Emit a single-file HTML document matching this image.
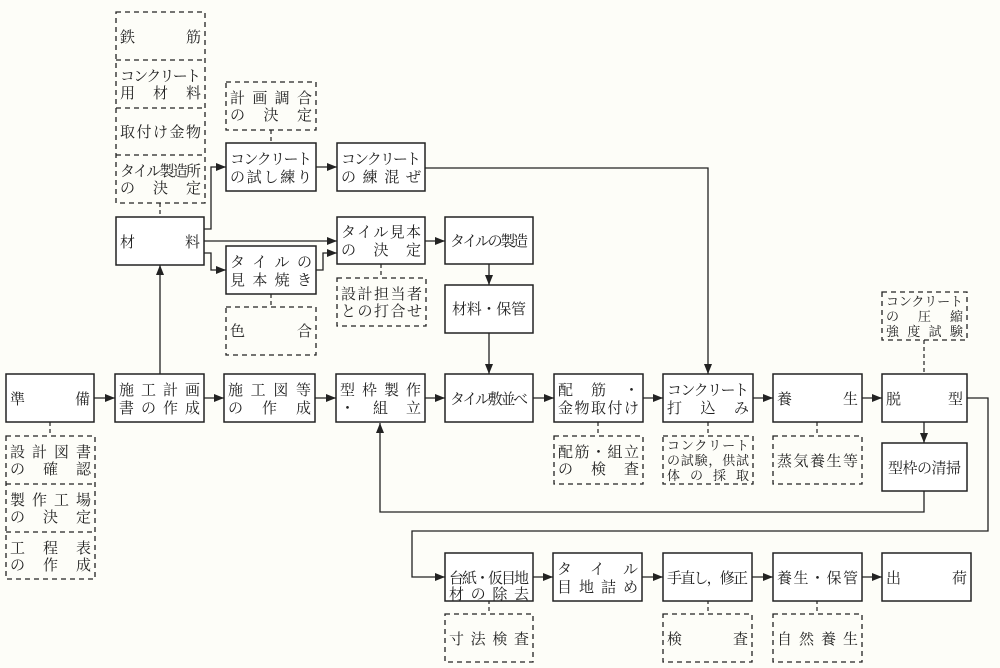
<!DOCTYPE html>
<html><head><meta charset="utf-8"><style>
html,body{margin:0;padding:0;background:#fdfdf8}
svg{display:block}
text{font-family:"Liberation Serif","Noto Serif CJK SC","Noto Sans CJK JP",serif;font-size:15px;fill:#222}
.s{fill:#fff;stroke:#222;stroke-width:1.5}
.d{fill:none;stroke:#222;stroke-width:1.3;stroke-dasharray:5,4}
.l{fill:none;stroke:#222;stroke-width:1.3}
.dl{fill:none;stroke:#222;stroke-width:1.2;stroke-dasharray:4,3}
.sm{font-size:13px}
</style></head><body>
<svg width="1000" height="668" viewBox="0 0 1000 668" xmlns="http://www.w3.org/2000/svg">
<defs><marker id="a" markerWidth="10" markerHeight="8" refX="10" refY="4" orient="auto" markerUnits="userSpaceOnUse"><path d="M0,0 L10,4 L0,8 Z" fill="#222"/></marker></defs>
<rect width="1000" height="668" fill="#fdfdf8"/>

<!-- connectors -->
<g class="l">
<path d="M94,398 H115" marker-end="url(#a)"/>
<path d="M204,398 H224" marker-end="url(#a)"/>
<path d="M315,398 H336" marker-end="url(#a)"/>
<path d="M425,398 H445" marker-end="url(#a)"/>
<path d="M533,398 H554" marker-end="url(#a)"/>
<path d="M643,398 H663" marker-end="url(#a)"/>
<path d="M753,398 H773" marker-end="url(#a)"/>
<path d="M862,398 H882" marker-end="url(#a)"/>
<path d="M160,374 V265" marker-end="url(#a)"/>
<path d="M204,229 H211 V167 H226" marker-end="url(#a)"/>
<path d="M204,241 H337" marker-end="url(#a)"/>
<path d="M204,253 H211 V270 H226" marker-end="url(#a)"/>
<path d="M316,270 H323 V253 H337" marker-end="url(#a)"/>
<path d="M316,167 H337" marker-end="url(#a)"/>
<path d="M425,241 H445" marker-end="url(#a)"/>
<path d="M425,168 H708 V374" marker-end="url(#a)"/>
<path d="M489,264 V285" marker-end="url(#a)"/>
<path d="M489,333 V374" marker-end="url(#a)"/>
<path d="M924,422 V443" marker-end="url(#a)"/>
<path d="M924,491 V512 H380 V423" marker-end="url(#a)"/>
<path d="M967,398 H988 V531 H412 V577 H445" marker-end="url(#a)"/>
<path d="M533,577 H553" marker-end="url(#a)"/>
<path d="M642,577 H663" marker-end="url(#a)"/>
<path d="M752,577 H773" marker-end="url(#a)"/>
<path d="M862,577 H882" marker-end="url(#a)"/>
</g>
<g class="dl">
<path d="M50,422 V436"/><path d="M160,203 V217"/><path d="M271,130 V143"/><path d="M271,294 V307"/><path d="M381,264 V278"/>
<path d="M598,422 V436"/><path d="M708,422 V436"/><path d="M817,422 V436"/><path d="M924,340 V374"/>
<path d="M489,600 V614"/><path d="M708,600 V614"/><path d="M817,600 V614"/>
</g>

<!-- solid boxes -->
<g class="s">
<rect x="6" y="374" width="88" height="48"/>
<rect x="115" y="374" width="89" height="48"/>
<rect x="224" y="374" width="91" height="48"/>
<rect x="336" y="374" width="89" height="48"/>
<rect x="445" y="374" width="88" height="48"/>
<rect x="554" y="374" width="89" height="48"/>
<rect x="663" y="374" width="90" height="48"/>
<rect x="773" y="374" width="89" height="48"/>
<rect x="882" y="374" width="85" height="48"/>
<rect x="882" y="443" width="85" height="48"/>
<rect x="116" y="217" width="88" height="48"/>
<rect x="226" y="143" width="90" height="48"/>
<rect x="337" y="143" width="88" height="48"/>
<rect x="337" y="217" width="88" height="47"/>
<rect x="226" y="246" width="90" height="48"/>
<rect x="445" y="217" width="88" height="47"/>
<rect x="445" y="285" width="88" height="48"/>
<rect x="445" y="553" width="88" height="48"/>
<rect x="553" y="553" width="89" height="48"/>
<rect x="663" y="553" width="89" height="48"/>
<rect x="773" y="553" width="89" height="48"/>
<rect x="882" y="553" width="89" height="48"/>
</g>
<!-- dashed boxes -->
<g class="d">
<rect x="116" y="12" width="89" height="191"/>
<path d="M116,60 H205 M116,108 H205 M116,155 H205"/>
<rect x="226" y="82" width="90" height="48"/>
<rect x="226" y="307" width="90" height="48"/>
<rect x="337" y="278" width="89" height="48"/>
<rect x="6" y="436" width="89" height="143"/>
<path d="M6,484 H95 M6,532 H95"/>
<rect x="554" y="436" width="89" height="48"/>
<rect x="663" y="436" width="90" height="48"/>
<rect x="773" y="436" width="89" height="48"/>
<rect x="882" y="292" width="85" height="48"/>
<rect x="445" y="614" width="88" height="48"/>
<rect x="663" y="614" width="89" height="48"/>
<rect x="773" y="614" width="89" height="48"/>
</g>

<!-- texts -->
<g>
<text x="10" y="404" textLength="80" lengthAdjust="spacing">準備</text>
<text x="119" y="395" textLength="81" lengthAdjust="spacing">施工計画</text>
<text x="119" y="413" textLength="81" lengthAdjust="spacing">書の作成</text>
<text x="228" y="395" textLength="83" lengthAdjust="spacing">施工図等</text>
<text x="228" y="413" textLength="83" lengthAdjust="spacing">の作成</text>
<text x="340" y="395" textLength="81" lengthAdjust="spacing">型枠製作</text>
<text x="340" y="413" textLength="81" lengthAdjust="spacing">・組立</text>
<text x="450" y="404" textLength="78" lengthAdjust="spacing">タイル敷並べ</text>
<text x="558" y="395" textLength="81" lengthAdjust="spacing">配筋・</text>
<text x="558" y="413" textLength="81" lengthAdjust="spacing">金物取付け</text>
<text x="667" y="395" textLength="82" lengthAdjust="spacing">コンクリート</text>
<text x="667" y="413" textLength="82" lengthAdjust="spacing">打込み</text>
<text x="777" y="404" textLength="81" lengthAdjust="spacing">養生</text>
<text x="886" y="404" textLength="77" lengthAdjust="spacing">脱型</text>
<text x="888" y="473" textLength="73" lengthAdjust="spacing">型枠の清掃</text>
<text x="120" y="247" textLength="80" lengthAdjust="spacing">材料</text>
<text x="230" y="164" textLength="82" lengthAdjust="spacing">コンクリート</text>
<text x="230" y="182" textLength="82" lengthAdjust="spacing">の試し練り</text>
<text x="341" y="164" textLength="80" lengthAdjust="spacing">コンクリート</text>
<text x="341" y="182" textLength="80" lengthAdjust="spacing">の練混ぜ</text>
<text x="341" y="237" textLength="80" lengthAdjust="spacing">タイル見本</text>
<text x="341" y="255" textLength="80" lengthAdjust="spacing">の決定</text>
<text x="230" y="267" textLength="82" lengthAdjust="spacing">タイルの</text>
<text x="230" y="285" textLength="82" lengthAdjust="spacing">見本焼き</text>
<text x="450" y="246" textLength="78" lengthAdjust="spacing">タイルの製造</text>
<text x="452" y="314" textLength="74" lengthAdjust="spacing">材料・保管</text>
<text x="449" y="583" textLength="80" lengthAdjust="spacing">台紙・仮目地</text>
<text x="449" y="600" textLength="80" lengthAdjust="spacing" dy="-1">材の除去</text>
<text x="557" y="574" textLength="81" lengthAdjust="spacing">タイル</text>
<text x="557" y="592" textLength="81" lengthAdjust="spacing">目地詰め</text>
<text x="667" y="583" textLength="81" lengthAdjust="spacing">手直し，修正</text>
<text x="777" y="583" textLength="81" lengthAdjust="spacing">養生・保管</text>
<text x="886" y="583" textLength="81" lengthAdjust="spacing">出荷</text>
<!-- dashed texts -->
<text x="120" y="42" textLength="81" lengthAdjust="spacing">鉄筋</text>
<text x="120" y="81" textLength="81" lengthAdjust="spacing">コンクリート</text>
<text x="120" y="98" textLength="81" lengthAdjust="spacing">用材料</text>
<text x="120" y="137" textLength="81" lengthAdjust="spacing">取付け金物</text>
<text x="120" y="176" textLength="81" lengthAdjust="spacing">タイル製造所</text>
<text x="120" y="193" textLength="81" lengthAdjust="spacing">の決定</text>
<text x="230" y="103" textLength="82" lengthAdjust="spacing">計画調合</text>
<text x="230" y="120" textLength="82" lengthAdjust="spacing">の決定</text>
<text x="230" y="336" textLength="82" lengthAdjust="spacing">色合</text>
<text x="341" y="299" textLength="81" lengthAdjust="spacing">設計担当者</text>
<text x="341" y="316" textLength="81" lengthAdjust="spacing">との打合せ</text>
<text x="10" y="457" textLength="81" lengthAdjust="spacing">設計図書</text>
<text x="10" y="474" textLength="81" lengthAdjust="spacing">の確認</text>
<text x="10" y="505" textLength="81" lengthAdjust="spacing">製作工場</text>
<text x="10" y="522" textLength="81" lengthAdjust="spacing">の決定</text>
<text x="10" y="553" textLength="81" lengthAdjust="spacing">工程表</text>
<text x="10" y="570" textLength="81" lengthAdjust="spacing">の作成</text>
<text x="558" y="457" textLength="81" lengthAdjust="spacing">配筋・組立</text>
<text x="558" y="474" textLength="81" lengthAdjust="spacing">の検査</text>
<text x="667" y="450" textLength="82" lengthAdjust="spacing" class="sm">コンクリート</text>
<text x="667" y="465" textLength="82" lengthAdjust="spacing" class="sm">の試験，供試</text>
<text x="667" y="480" textLength="82" lengthAdjust="spacing" class="sm">体の採取</text>
<text x="777" y="466" textLength="81" lengthAdjust="spacing">蒸気養生等</text>
<text x="886" y="306" textLength="77" lengthAdjust="spacing" class="sm">コンクリート</text>
<text x="886" y="321" textLength="77" lengthAdjust="spacing" class="sm">の圧縮</text>
<text x="886" y="336" textLength="77" lengthAdjust="spacing" class="sm">強度試験</text>
<text x="449" y="644" textLength="80" lengthAdjust="spacing">寸法検査</text>
<text x="667" y="644" textLength="81" lengthAdjust="spacing">検査</text>
<text x="777" y="644" textLength="81" lengthAdjust="spacing">自然養生</text>
</g>
</svg>
</body></html>
